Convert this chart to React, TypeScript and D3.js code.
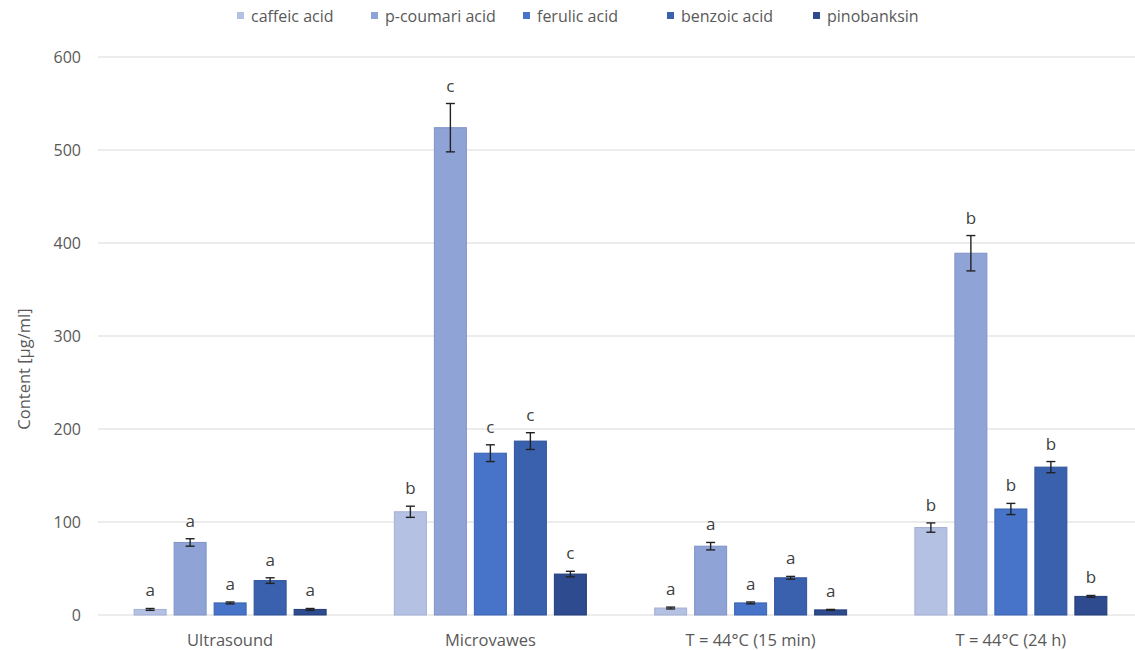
import React from "react";
import * as d3 from "d3";

const categories = ["Ultrasound", "Microvawes", "T = 44°C (15 min)", "T = 44°C (24 h)"];
const series = ["caffeic acid", "p-coumari acid", "ferulic acid", "benzoic acid", "pinobanksin"];
const colors = ["#b4c1e3", "#8fa3d6", "#4774c8", "#3961ad", "#2d4b8e"];
const strokes = ["#a3b0d4", "#7f93c6", "#3a63b0", "#2f5399", "#233d76"];
// values[seriesIndex][categoryIndex]
const values = [
  [6, 111, 7.5, 94],
  [78, 524, 74, 389],
  [13, 174, 13, 114],
  [37, 187, 40, 159],
  [6, 44, 5.5, 20],
];
const errors = [
  [1, 6, 1, 5],
  [4, 26, 4, 19],
  [1, 9, 1, 6],
  [3, 9, 1.5, 6],
  [1, 3, 0.5, 1],
];
const letters = [
  ["a", "b", "a", "b"],
  ["a", "c", "a", "b"],
  ["a", "c", "a", "b"],
  ["a", "c", "a", "b"],
  ["a", "c", "a", "b"],
];
const yTicks = [0, 100, 200, 300, 400, 500, 600];
const legendX = [237, 371, 523, 667, 813];

const W = 1135;
const H = 650;
const FONT = "'Open Sans', 'Noto Sans', sans-serif";
const TEXT = "#595959";

export default function App() {
  const x0 = d3.scaleBand<string>().domain(categories).range([100, 1141]).padding(0);
  const y = d3.scaleLinear().domain([0, 600]).range([615, 57]);
  const x1 = d3
    .scaleBand<string>()
    .domain(series)
    .range([-100, 100])
    .paddingInner(0.2)
    .paddingOuter(0.1);
  const bw = x1.bandwidth();

  return (
    <svg
      width={W}
      height={H}
      style={{ position: "absolute", left: 0, top: 0, background: "#fff" }}
      fontFamily={FONT}
    >
      <rect x={0} y={0} width={W} height={H} fill="#fff" />
      {yTicks.map((t) => (
        <line key={t} x1={98} x2={W} y1={y(t)} y2={y(t)} stroke="#d9d9d9" strokeWidth={1} />
      ))}
      {yTicks.map((t) => (
        <text key={"l" + t} x={81} y={y(t)} dy="0.35em" textAnchor="end" fontSize={16} fill={TEXT}>
          {t}
        </text>
      ))}
      <text
        transform={`translate(24,${(y(0) + y(600)) / 2 + 33}) rotate(-90)`}
        textAnchor="middle"
        fontSize={16.5}
        fill={TEXT}
        dy="0.35em"
      >
        Content [µg/ml]
      </text>
      {categories.map((c, ci) => {
        const cx = (x0(c) as number) + x0.bandwidth() / 2;
        return (
          <g key={c}>
            {series.map((s, si) => {
              const v = values[si][ci];
              const e = errors[si][ci];
              const bx = cx + (x1(s) as number);
              const mid = bx + bw / 2;
              const top = y(v + e);
              const bot = y(Math.max(0, v - e));
              return (
                <g key={s}>
                  <rect
                    x={bx}
                    y={y(v)}
                    width={bw}
                    height={y(0) - y(v)}
                    fill={colors[si]}
                    stroke={strokes[si]}
                    strokeWidth={1}
                  />
                  <line x1={mid} x2={mid} y1={top} y2={bot} stroke="#222" strokeWidth={1.4} />
                  <line x1={mid - 4.5} x2={mid + 4.5} y1={top} y2={top} stroke="#222" strokeWidth={1.4} />
                  <line x1={mid - 4.5} x2={mid + 4.5} y1={bot} y2={bot} stroke="#222" strokeWidth={1.4} />
                  <text x={mid} y={top - 12} textAnchor="middle" fontSize={17} fill="#404040">
                    {letters[si][ci]}
                  </text>
                </g>
              );
            })}
            <text x={cx} y={640} dy="0.35em" textAnchor="middle" fontSize={16.5} fill={TEXT}>
              {c}
            </text>
          </g>
        );
      })}
      {series.map((s, si) => (
        <g key={"lg" + s}>
          <rect x={legendX[si]} y={12} width={7} height={7} fill={colors[si]} />
          <text x={legendX[si] + 14} y={16} dy="0.35em" fontSize={16} fill={TEXT}>
            {s}
          </text>
        </g>
      ))}
    </svg>
  );
}
